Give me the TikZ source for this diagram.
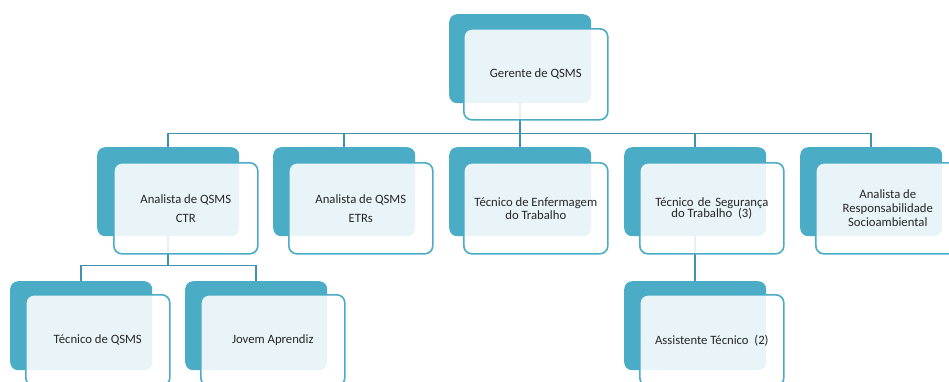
\documentclass[tikz,border=0pt]{standalone}
\usepackage{fontspec}
\setmainfont{Carlito}
\definecolor{accent}{HTML}{4BACC6}
\definecolor{linec}{HTML}{3F93AC}
\definecolor{txt}{HTML}{262626}
\tikzset{
  back/.style={fill=accent, rounded corners=8pt, minimum width=142pt, minimum height=89pt, inner sep=0pt, anchor=north west},
  front/.style={fill=white, fill opacity=0.88, text opacity=1, draw=accent, line width=1.6pt, rounded corners=8pt,
    minimum width=144pt, minimum height=91pt, inner sep=0pt, anchor=north west, align=center,
    font=\fontsize{12.7}{15}\selectfont, text=txt},
  conn/.style={draw=linec, line width=1.6pt}
}
\begin{document}
\begin{tikzpicture}[x=1pt,y=-1pt]
\useasboundingbox (0,0) rectangle (949,381);
\clip (0,0) rectangle (949,381);
% back rectangles
\node[back] (b0) at (449,14) {};
\node[back] (b1) at (97,147) {};
\node[back] (b2) at (273,147) {};
\node[back] (b3) at (449,147) {};
\node[back] (b4) at (624,147) {};
\node[back] (b5) at (800,147) {};
\node[back] (b6) at (10,281) {};
\node[back] (b7) at (185,281) {};
\node[back] (b8) at (624,281) {};
% connectors
\foreach \k in {1,...,5}{
  \draw[conn] (b0.south) -- ++(0,30) -| (b\k.north);
}
\foreach \k in {6,7}{
  \draw[conn] (b1.south) -- ++(0,29) -| (b\k.north);
}
\draw[conn] (b4.south) -- (b8.north);
% front rectangles
\node[front] (f0) at (463,28) {Gerente de QSMS};
\node[front] (f1) at (113,162) {Analista de QSMS\\[4pt]CTR};
\node[front] (f2) at (288,162) {Analista de QSMS\\[4pt]ETRs};
\node[front] (f3) at (463,162) {Técnico de Enfermagem\\[-2pt]do Trabalho};
\node[front] (f4) at (639,162) {Técnico\hspace{1.5pt} de\hspace{1.5pt} Segurança\\[-3.5pt]do Trabalho\ \ (3)};
\node[front] (f5) at (815,162) {Analista de\\[-1pt]Responsabilidade\\[-1pt]Socioambiental};
\node[front] (f6) at (25,294) {Técnico de QSMS};
\node[front] (f7) at (200,294) {Jovem Aprendiz};
\node[front] (f8) at (639,294) {Assistente Técnico\ \ (2)};
\end{tikzpicture}
\end{document}
